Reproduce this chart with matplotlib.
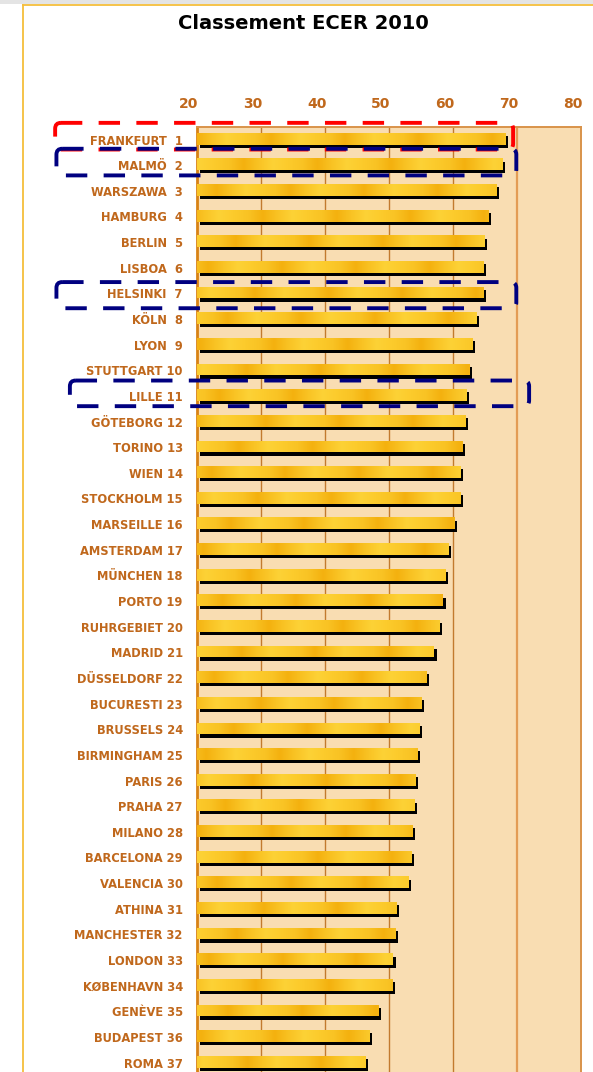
import numpy as np
import matplotlib
matplotlib.use("Agg")
import matplotlib.pyplot as plt
import matplotlib.patheffects as pe
from matplotlib.colors import LinearSegmentedColormap
from matplotlib.patches import FancyBboxPatch, Rectangle
from matplotlib.lines import Line2D
from matplotlib.transforms import ScaledTranslation

# data
cities = ["FRANKFURT", "MALMÖ", "WARSZAWA", "HAMBURG", "BERLIN", "LISBOA",
          "HELSINKI", "KÖLN", "LYON", "STUTTGART", "LILLE", "GÖTEBORG",
          "TORINO", "WIEN", "STOCKHOLM", "MARSEILLE", "AMSTERDAM", "MÜNCHEN",
          "PORTO", "RUHRGEBIET", "MADRID", "DÜSSELDORF", "BUCURESTI",
          "BRUSSELS", "BIRMINGHAM", "PARIS", "PRAHA", "MILANO", "BARCELONA",
          "VALENCIA", "ATHINA", "MANCHESTER", "LONDON", "KØBENHAVN", "GENÈVE",
          "BUDAPEST", "ROMA"]
scores = [68.1, 67.7, 66.7, 65.5, 64.9, 64.7, 64.7, 63.6, 63.0, 62.5, 62.0,
          61.9, 61.4, 61.1, 61.1, 60.2, 59.2, 58.8, 58.4, 57.8, 57.0, 55.8,
          55.1, 54.7, 54.4, 54.1, 53.9, 53.6, 53.5, 53.0, 51.1, 51.0, 50.6,
          50.5, 48.3, 46.9, 46.3]
ticks = [20, 30, 40, 50, 60, 70, 80]
title = "Classement ECER 2010"

# highlighted cities: (city, colour, left x, right x, top offset, bottom offset)
highlights = [
    ("FRANKFURT", "#FF0000", -2.1, 69.4, -0.65, 0.39),
    ("MALMÖ", "#000080", -1.9, 69.9, -0.64, 0.40),
    ("HELSINKI", "#000080", -1.9, 69.9, -0.44, 0.58),
    ("LILLE", "#000080", 0.2, 71.9, -0.60, 0.40),
]

label_col = "#C0681C"
peach = "#F9DDB2"

W, H, DPI = 593, 1072, 100
fig = plt.figure(figsize=(W / DPI, H / DPI), dpi=DPI)
fig.patch.set_facecolor("white")

# page frame: grey strip on top, yellow border lines
fig.add_artist(Rectangle((0, 1 - 4 / H), 1, 4 / H, transform=fig.transFigure,
                         facecolor="#E4E4E4", edgecolor="none"))
fig.add_artist(Line2D([22.7 / W, 1], [1 - 4.7 / H, 1 - 4.7 / H],
                      transform=fig.transFigure, color="#F5BE3C", lw=1.3))
fig.add_artist(Line2D([22.7 / W, 22.7 / W], [0, 1 - 4.7 / H],
                      transform=fig.transFigure, color="#F5BE3C", lw=1.3))

n = len(cities)
row_px = 25.64
extra = 1
left_px, right_px, top_px = 196.7, 581, 126.7
ax_h = (n + extra) * row_px
ax = fig.add_axes([left_px / W, 1 - (top_px + ax_h) / H,
                   (right_px - left_px) / W, ax_h / H])
ax.set_facecolor(peach)

ypos = np.arange(n)
bar_h = 0.46
bars = ax.barh(ypos - 0.03, np.array(scores) - ticks[0], left=ticks[0],
               height=bar_h, color="#F9C223", edgecolor="none", zorder=3)
for b in bars:
    b.set_path_effects([pe.SimplePatchShadow(offset=(2.1, -2.3),
                                             shadow_rgbFace="black", alpha=1.0),
                        pe.Normal()])

# golden texture on each bar
gold = LinearSegmentedColormap.from_list(
    "gold", ["#F4B10F", "#F9C324", "#FDD236", "#FCCB2C", "#F9C324", "#F4B10F"])
xx = np.linspace(0, 1, 400)
for i, b in enumerate(bars):
    phase = (i * 0.37) % 1
    tex = (xx * 60 / 11.5 + phase) % 1
    img = np.tile(tex, (6, 1))
    y0 = b.get_y()
    im = ax.imshow(img, cmap=gold, vmin=0, vmax=1, aspect="auto",
                   extent=[ticks[0], ticks[-1], y0 + bar_h, y0],
                   zorder=4, interpolation="bilinear")
    im.set_clip_path(b)

ax.set_xlim(ticks[0], ticks[-1])
ax.set_ylim(n - 0.5 + extra, -0.5)

# vertical grid lines
for t in ticks[1:-1]:
    c, lw = ("#E39C55", 1.6) if t == 70 else ("#C27A2E", 1.0)
    ax.axvline(t, color=c, lw=lw, zorder=1)

for side in ["top", "right"]:
    ax.spines[side].set_color("#D9934A")
    ax.spines[side].set_linewidth(1.4)
ax.spines["left"].set_color("#D88214")
ax.spines["left"].set_linewidth(2)
ax.spines["bottom"].set_visible(False)

ax.xaxis.tick_top()
ax.set_xticks(ticks)
ax.set_xticklabels([str(t) for t in ticks], fontsize=10, fontweight="bold",
                   color=label_col)
ax.tick_params(axis="x", length=0, pad=11)
shift = ScaledTranslation(-8 / DPI, 0, fig.dpi_scale_trans)
for lab in ax.get_xticklabels():
    lab.set_transform(lab.get_transform() + shift)

ax.set_yticks(ypos)
ax.set_yticklabels([f"{c} {r:2d}" for r, c in enumerate(cities, start=1)],
                   fontsize=8.3, fontweight="bold", color=label_col)
ax.tick_params(axis="y", length=0, pad=10)

# dashed highlight boxes
for city, col, x0, x1, d0, d1 in highlights:
    r = cities.index(city)
    box = FancyBboxPatch((x0, r + d0), x1 - x0, d1 - d0,
                         boxstyle="round,pad=0,rounding_size=0.9",
                         mutation_aspect=0.25,
                         facecolor="none", edgecolor=col, lw=2.8,
                         linestyle=(0, (5.5, 4.2)), clip_on=False, zorder=6)
    ax.add_patch(box)

fig.text(303 / W, 1 - 23.3 / H, title, ha="center", va="center",
         fontsize=14, fontweight="bold", color="black")

fig.savefig("out.png", dpi=DPI)
